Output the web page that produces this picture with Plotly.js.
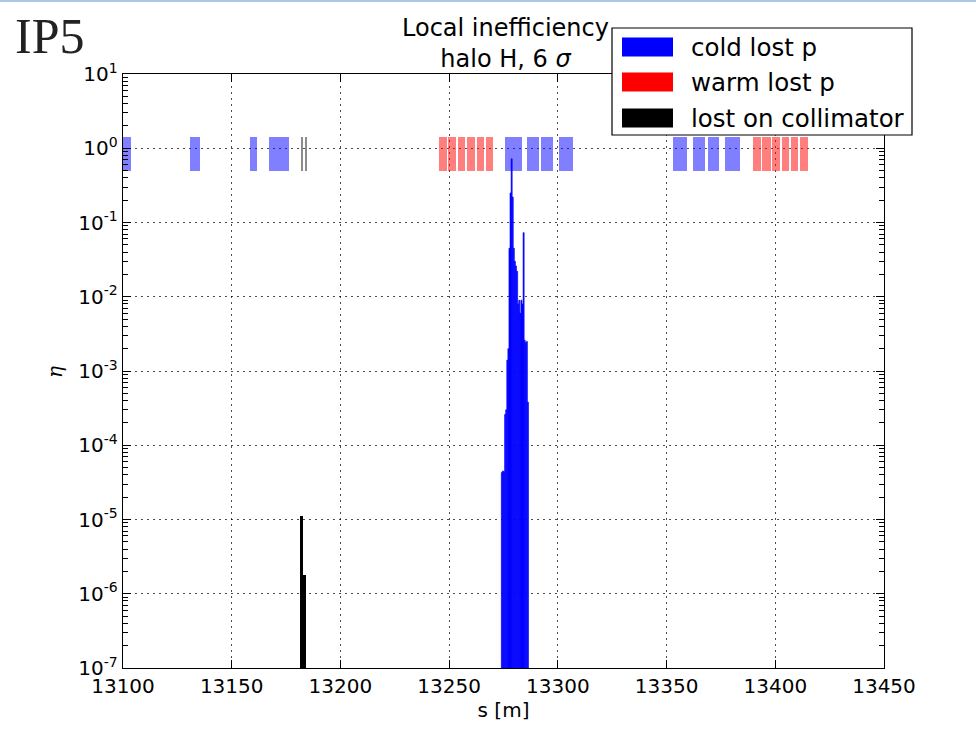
<!DOCTYPE html>
<html>
<head>
<meta charset="utf-8">
<script src="https://cdn.plot.ly/plotly-3.0.1.min.js"></script>
<style>html,body{margin:0;padding:0;background:#fff;}</style>
</head>
<body>
<div id="chart" style="width:976px;height:739px;"></div>
<script>
// ---------------- data ----------------
// cold (superconducting) elements, s start / end [m]
const coldBandStart = [13097.0, 13130.8, 13158.4, 13167.2, 13275.7, 13286.0, 13292.4, 13300.7, 13353.1, 13362.3, 13368.9, 13377.0];
const coldBandEnd   = [13103.5, 13135.4, 13161.8, 13176.5, 13283.4, 13291.4, 13297.8, 13307.1, 13359.5, 13367.7, 13374.3, 13383.9];
// warm elements
const warmBandStart = [13245.4, 13249.6, 13253.9, 13258.4, 13262.7, 13266.8, 13389.8, 13394.1, 13398.5, 13403.0, 13407.1, 13411.4];
const warmBandEnd   = [13248.9, 13253.2, 13257.4, 13261.9, 13266.2, 13270.3, 13393.5, 13397.8, 13402.2, 13406.5, 13410.6, 13414.9];
// collimators
const collBandStart = [13181.8, 13183.7];
const collBandEnd   = [13182.8, 13184.7];
const bandLow = 0.5, bandHigh = 1.4;

// local inefficiency: cold losses
const coldLossS   = [13274.25, 13274.75, 13275.25, 13275.75, 13276.25, 13276.75, 13277.25, 13277.75, 13278.25, 13278.75, 13279.25, 13279.75, 13280.25, 13280.75, 13281.25, 13281.75, 13282.25, 13282.75, 13283.25, 13283.75, 13284.25, 13284.75, 13285.25, 13285.75, 13286.25];
const coldLossEta = [4.3e-5, 4.5e-5, 4.4e-5, 2.6e-4, 3.0e-4, 1.4e-3, 2.0e-3, 4.5e-2, 0.25, 0.72, 0.22, 0.045, 0.03, 0.026, 0.022, 0.008, 0.009, 0.006, 0.009, 0.008, 0.073, 0.0026, 0.0024, 0.0025, 3.8e-4];
const coldLossWidth = 0.5;
// losses on collimators
const collLossS   = [13182.0, 13183.5];
const collLossEta = [1.1e-5, 1.8e-6];

const legendNames  = ['cold lost p', 'warm lost p', 'lost on collimator'];
const legendColors = ['#0000ff', '#ff0000', '#000000'];

const titleLines = ['Local inefficiency', 'halo H, 6 <i>σ</i>'];
const xTicks = [13100, 13150, 13200, 13250, 13300, 13350, 13400, 13450];
const yExponents = [-7, -6, -5, -4, -3, -2, -1, 0, 1];

// ---------------- build ----------------
function bandTrace(starts, ends, color) {
  return {
    type: 'bar',
    x: starts.map((s, i) => (s + ends[i]) / 2),
    width: starts.map((s, i) => ends[i] - s),
    y: starts.map(() => bandHigh - bandLow),
    base: starts.map(() => bandLow),
    marker: {color: color, line: {width: 0}},
    showlegend: false, hoverinfo: 'skip'
  };
}

const traces = [
  bandTrace(coldBandStart, coldBandEnd, 'rgba(0,0,255,0.5)'),
  bandTrace(warmBandStart, warmBandEnd, 'rgba(255,0,0,0.5)'),
  bandTrace(collBandStart, collBandEnd, 'rgba(0,0,0,0.45)'),
  {
    type: 'bar', x: coldLossS, y: coldLossEta, width: coldLossS.map(() => coldLossWidth),
    marker: {color: '#0000ff', line: {color: '#0000ff', width: 0.6}}, showlegend: false
  },
  {
    type: 'bar', x: collLossS, y: collLossEta, width: collLossS.map(() => 1.3),
    marker: {color: '#000000', line: {width: 0}}, showlegend: false
  }
];

// minor log tick positions
const minorVals = [];
yExponents.slice(0, -1).forEach(e => { for (let k = 2; k <= 9; k++) minorVals.push(k * Math.pow(10, e)); });

// pixel -> paper helpers (plot area 123..884 x 74..668)
const L = 123, R = 884, T = 74, B = 668;
const px = v => (v - L) / (R - L);
const py = v => (B - v) / (B - T);

const shapes = [
  {type: 'line', xref: 'paper', yref: 'paper', x0: px(0), x1: px(976), y0: py(1), y1: py(1),
   line: {color: '#a9c8e8', width: 2}, layer: 'above'},
  {type: 'rect', xref: 'paper', yref: 'paper', x0: px(612), x1: px(912), y0: py(135), y1: py(28),
   fillcolor: '#ffffff', line: {color: '#000', width: 1.2}, layer: 'above'}
];
const annotations = [
  {xref: 'paper', yref: 'paper', x: px(13), y: py(36), xanchor: 'left', yanchor: 'middle',
   text: 'IP5', showarrow: false, font: {family: 'Liberation Serif, serif', size: 50, color: '#222'}},
  {xref: 'paper', yref: 'paper', x: px(55), y: py(372), xanchor: 'center', yanchor: 'middle',
   text: '<i>η</i>', textangle: -90, showarrow: false, font: {family: 'DejaVu Serif', size: 20, color: '#000'}},
  {xref: 'paper', yref: 'paper', x: px(505), y: py(44), xanchor: 'center', yanchor: 'middle',
   text: titleLines.join('<br>'), showarrow: false, align: 'center',
   font: {family: 'DejaVu Sans', size: 24, color: '#000'}}
];
const rowY = [47, 82, 118];
legendNames.forEach((name, i) => {
  shapes.push({type: 'rect', xref: 'paper', yref: 'paper', x0: px(622), x1: px(673),
    y0: py(rowY[i] + 9.5), y1: py(rowY[i] - 9.5), fillcolor: legendColors[i],
    line: {width: 0}, layer: 'above'});
  annotations.push({xref: 'paper', yref: 'paper', x: px(689), y: py(rowY[i]), xanchor: 'left',
    yanchor: 'middle', text: name, showarrow: false,
    font: {family: 'DejaVu Sans', size: 24.5, color: '#000'}});
});

const layout = {
  width: 976, height: 739,
  margin: {l: L, r: 976 - R, t: T, b: 739 - B, pad: 0},
  paper_bgcolor: '#fff', plot_bgcolor: '#fff',
  font: {family: 'DejaVu Sans', color: '#000'},
  barmode: 'overlay', bargap: 0,
  showlegend: false,
  xaxis: {
    range: [13100, 13450], tickvals: xTicks, ticktext: xTicks.map(String),
    showline: true, linecolor: '#000', linewidth: 1.3, mirror: 'allticks',
    ticks: 'inside', ticklen: 8, tickcolor: '#000',
    showgrid: true, gridcolor: 'rgba(0,0,0,0.7)', gridwidth: 1, griddash: '2px,4px',
    zeroline: false, tickfont: {size: 20},
    title: {text: 's [m]', font: {size: 20}, standoff: 0}
  },
  yaxis: {
    type: 'log', range: [-7, 1],
    tickvals: yExponents.map(e => Math.pow(10, e)),
    ticktext: yExponents.map(e => '10<sup>' + (e < 0 ? '-' + (-e) : e) + '</sup>'),
    showline: true, linecolor: '#000', linewidth: 1.3, mirror: 'allticks',
    ticks: 'inside', ticklen: 8, tickcolor: '#000',
    minor: {tickmode: 'array', ticks: 'inside', ticklen: 5, tickwidth: 1, tickcolor: '#000', tickvals: minorVals, showgrid: false},
    showgrid: true, gridcolor: 'rgba(0,0,0,0.7)', gridwidth: 1, griddash: '2px,4px',
    zeroline: false, tickfont: {size: 20}
  },
  shapes: shapes,
  annotations: annotations
};

Plotly.newPlot('chart', traces, layout, {staticPlot: true, displayModeBar: false});
</script>
</body>
</html>
